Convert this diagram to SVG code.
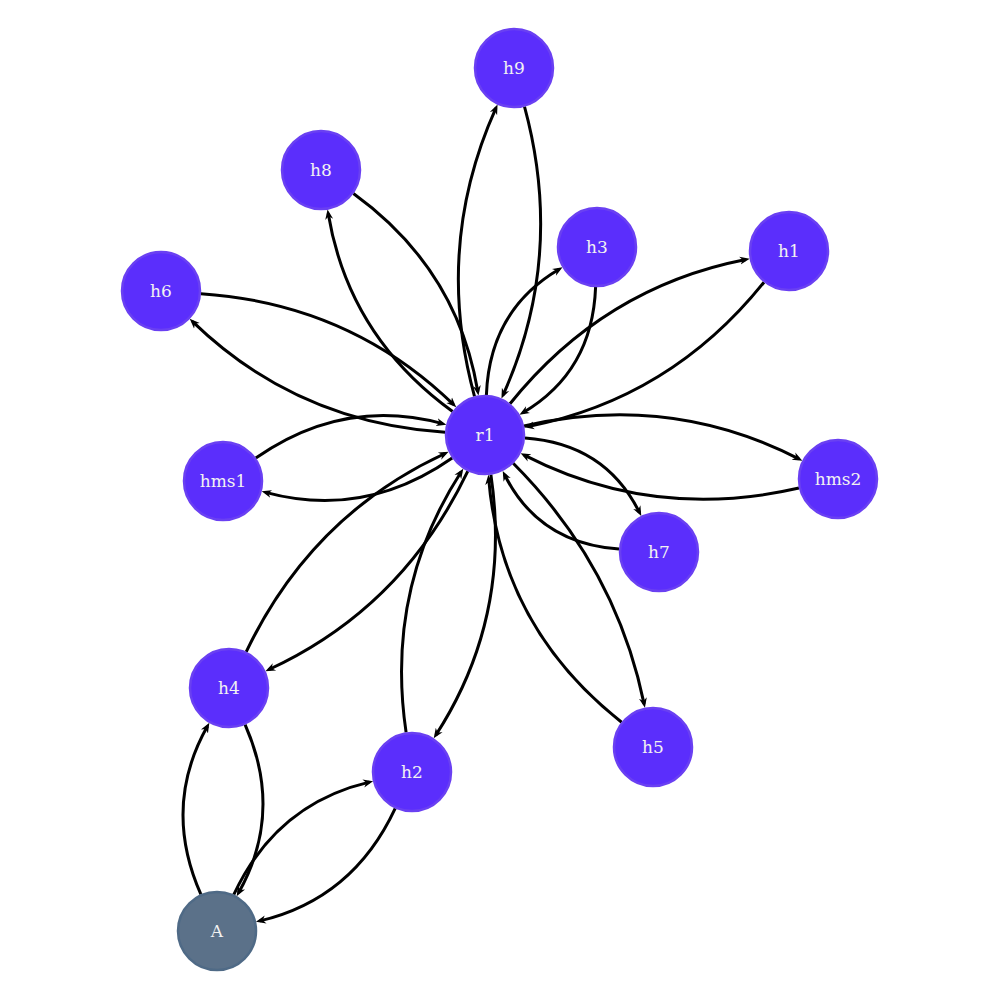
<svg xmlns="http://www.w3.org/2000/svg" width="1000" height="1000" viewBox="0 0 1000 1000">
<style>
.e{fill:none;stroke:#000;stroke-width:3;marker-end:url(#ar)}
.n{fill:#5b2efc;stroke:#6a40f2;stroke-width:2.5}
.a{fill:#5b7189;stroke:#4f6a86;stroke-width:2.5}
.t{font-family:"DejaVu Serif","Liberation Serif",serif;font-size:17px;fill:#f2f2f2;text-anchor:middle;dominant-baseline:central}
</style>
<defs>
<marker id="ar" markerUnits="userSpaceOnUse" viewBox="0 0 10 10" refX="6" refY="5" markerWidth="10" markerHeight="10" orient="auto">
<path d="M0,1 L10,5 L0,9 L3,5 z" fill="#000"/>
</marker>
</defs>
<rect width="1000" height="1000" fill="#fff"/>
<g id="edges">
<path class="e" d="M474.5,396.4 Q433.7,246.3 495.9,108.1"/>
<path class="e" d="M524.5,106.6 Q565.3,256.7 503.1,394.9"/>
<path class="e" d="M452.6,411.5 Q348.6,336.2 328.2,213.4"/>
<path class="e" d="M353.4,193.5 Q457.4,268.8 477.8,391.6"/>
<path class="e" d="M486.4,395 Q489.5,310.3 559.1,269.3"/>
<path class="e" d="M595.6,287 Q592.5,371.7 522.9,412.7"/>
<path class="e" d="M510,403.8 Q603.3,287.4 745.8,259.5"/>
<path class="e" d="M764,282.2 Q670.7,398.6 528.2,426.5"/>
<path class="e" d="M200.9,293.7 Q349.4,303.6 453.4,404.4"/>
<path class="e" d="M445.1,432.3 Q296.6,422.4 192.6,321.6"/>
<path class="e" d="M255.8,458.1 Q343.3,396.9 442.5,423.6"/>
<path class="e" d="M452.2,457.9 Q364.7,519.1 265.5,492.4"/>
<path class="e" d="M524,426 Q669.6,392.5 798.8,458.9"/>
<path class="e" d="M799,488 Q653.4,521.5 524.2,455.1"/>
<path class="e" d="M525,437.9 Q605.5,443.7 639.5,512.5"/>
<path class="e" d="M619,549.1 Q538.5,543.3 504.5,474.5"/>
<path class="e" d="M513.2,463.3 Q615.6,565.9 644.1,703.9"/>
<path class="e" d="M621.6,722.2 Q501.2,627.5 488.7,478.8"/>
<path class="e" d="M246.2,651.9 Q311.3,515.3 445,453.5"/>
<path class="e" d="M467.8,471.1 Q402.7,607.7 269,669.5"/>
<path class="e" d="M406.1,732.4 Q385,589.7 461.1,472"/>
<path class="e" d="M490.9,474.6 Q512,617.3 435.9,735"/>
<path class="e" d="M200.9,894.4 Q162.1,806.5 207.4,726.3"/>
<path class="e" d="M245.1,724.6 Q283.9,812.5 238.6,892.7"/>
<path class="e" d="M233.8,894.7 Q275.9,804.2 369.2,782.1"/>
<path class="e" d="M395.2,808.3 Q353.1,898.8 259.8,920.9"/>
</g>
<g id="r1"><circle class="n" cx="485" cy="435" r="39"/><text class="t" x="485" y="435">r1</text></g>
<g id="h9"><circle class="n" cx="514" cy="68" r="39"/><text class="t" x="514" y="68">h9</text></g>
<g id="h8"><circle class="n" cx="321" cy="170" r="39"/><text class="t" x="321" y="170">h8</text></g>
<g id="h3"><circle class="n" cx="597" cy="247" r="39"/><text class="t" x="597" y="247">h3</text></g>
<g id="h1"><circle class="n" cx="789" cy="251" r="39"/><text class="t" x="789" y="251">h1</text></g>
<g id="h6"><circle class="n" cx="161" cy="291" r="39"/><text class="t" x="161" y="291">h6</text></g>
<g id="hms1"><circle class="n" cx="223" cy="481" r="39"/><text class="t" x="223" y="481">hms1</text></g>
<g id="hms2"><circle class="n" cx="838" cy="479" r="39"/><text class="t" x="838" y="479">hms2</text></g>
<g id="h7"><circle class="n" cx="659" cy="552" r="39"/><text class="t" x="659" y="552">h7</text></g>
<g id="h4"><circle class="n" cx="229" cy="688" r="39"/><text class="t" x="229" y="688">h4</text></g>
<g id="h2"><circle class="n" cx="412" cy="772" r="39"/><text class="t" x="412" y="772">h2</text></g>
<g id="h5"><circle class="n" cx="653" cy="747" r="39"/><text class="t" x="653" y="747">h5</text></g>
<g id="A"><circle class="a" cx="217" cy="931" r="39"/><text class="t" x="217" y="931">A</text></g>
</svg>
